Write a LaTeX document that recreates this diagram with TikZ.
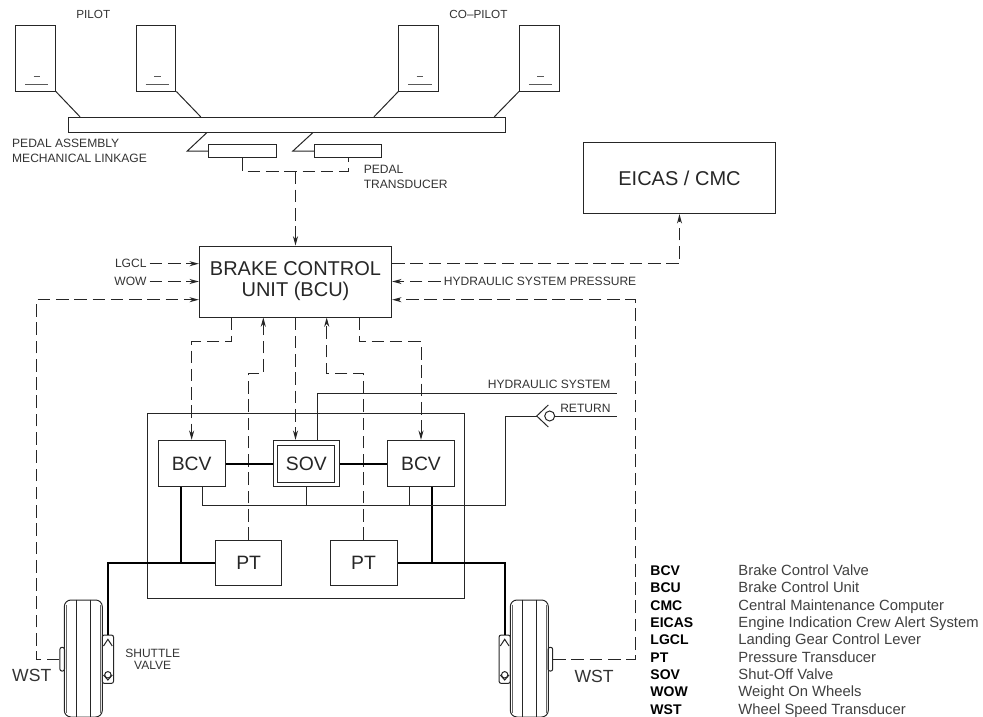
\documentclass[tikz,border=0pt]{standalone}
\usepackage{fontspec}
\setmainfont{Liberation Sans}
\usetikzlibrary{arrows.meta,positioning,calc}

\begin{document}
\begin{tikzpicture}[x=0.75pt, y=-0.75pt, >={Stealth[length=7pt,width=3.8pt]}, line width=0.75pt, black!85]
\tikzstyle{size}=[minimum width=#1*0.75pt]
\tikzstyle{high}=[minimum height=#1*0.75pt]
\tikzstyle{box}=[draw, rectangle, inner sep=0pt, text=black!85, font=\fontsize{14.5}{18}\selectfont]
\tikzstyle{lbl}=[inner sep=2pt, text=black!80, font=\fontsize{9.05}{11.25}\selectfont]
\tikzstyle{sig}=[dash pattern=on 9.5pt off 4.2pt]
\tikzstyle{hyd}=[line width=1.5pt, black]
\useasboundingbox (0,0) rectangle (983,717);

\node[box, size=437.4, high=15]   (bar)   at (287,124.8)     {};
\foreach \n/\x/\fx/\corner in {A/35.5/80/south east, B/156/200.7/south east, C/418.7/374/south west, D/539.3/494.3/south west}{
  \node[box, size=39.8, high=65.7] (pedal\n) at (\x,58.2) {};
  \draw (pedal\n.\corner) -- (\fx,0 |- bar.north);
  \draw[black!65] ($(pedal\n.south)+(-2,-14.7)$) -- ($(pedal\n.south)+(4.5,-14.7)$);
  \draw[black!65] ($(pedal\n.south)+(-10.5,-6.7)$) -- ($(pedal\n.south)+(12.8,-6.7)$);
}
\node[lbl, font=\fontsize{8.8}{11}\selectfont] (pilot)   at (93.3,14.3)  {PILOT};
\node[lbl, font=\fontsize{8.8}{11}\selectfont] (copilot) at (478.5,14.3) {CO–PILOT};
\node[lbl, anchor=west, align=left] (linkage) at (9,150.8)    {PEDAL ASSEMBLY\\MECHANICAL LINKAGE};
\node[lbl, anchor=west, align=left] (pedtxt)  at (360.6,176.5) {PEDAL\\TRANSDUCER};

\node[box, size=68, high=13.7]    (tdA)   at (242.3,151.1)   {};
\node[box, size=67.4, high=13.7]  (tdB)   at (348,151.1)     {};
\coordinate (tdJoin) at (295.5,171.3);
\draw (206.7,0 |- bar.south) -- ($(tdA.west)+(-20.6,0)$) -- (tdA.west);
\draw (312.7,0 |- bar.south) -- ($(tdB.west)+(-21,0)$) -- (tdB.west);

\node[box, size=192.4, high=71, align=center, font=\fontsize{15}{15.75}\selectfont] (bcu) at (295.5,281.5) {BRAKE CONTROL\\UNIT (BCU)};
\node[box, size=192.4, high=71, font=\fontsize{15}{18}\selectfont] (eicas) at (679.5,178.2) {EICAS / CMC};
\node[lbl, anchor=east] (lgcl) at (149.7,263.7) {LGCL};
\node[lbl, anchor=east] (wow)  at (149.7,281.5) {WOW};
\node[lbl, anchor=west] (hsp)  at (440.7,281.5) {HYDRAULIC SYSTEM PRESSURE};

\node[box, size=316.6, high=185]  (frame) at (306,505.8)     {};
\node[box, size=67.3, high=46.4]  (bcvA)  at (191.65,463.5)  {BCV};
\node[box, size=66, high=46.4]    (sov)   at (306.3,463.5)   {};
\node[box, size=57.3, high=37]    (sovIn) at (306.3,463.8)   {SOV};
\node[box, size=66.6, high=46.4]  (bcvB)  at (421,463.5)     {BCV};
\node[box, size=66, high=45]      (ptA)   at (248.7,562.8)   {PT};
\node[box, size=67, high=45]      (ptB)   at (363.5,562.8)   {PT};

\foreach \n/\cx/\s in {L/83.3/1, R/529.3/-1}{
  \node[draw, rectangle, rounded corners=5pt, size=38, high=117, inner sep=0pt] (wheel\n) at (\cx,658.5) {};
  \node[draw, rectangle, rounded corners=1.5pt, size=4.6, high=23.7, inner sep=0pt] (hub\n) at ({\cx-\s*21.1},659.2) {};
  \node[draw, rectangle, rounded corners=1.5pt, size=11.2, high=48.3, inner sep=0pt] (shuttle\n) at ({\cx+\s*24.6},659.2) {};
  \foreach \gx in {-6.4,7.4}
    \draw ($(wheel\n.north)+(\gx,0)$) -- ($(wheel\n.south)+(\gx,0)$);
  \foreach \gx in {-17.2,17.2}
    \draw[black!60] ($(wheel\n.north)+(\gx,5)$) -- ($(wheel\n.south)+(\gx,-5)$);
  \draw ($(shuttle\n.center)+(-4.4,-13.2)$) -- ($(shuttle\n.center)+(0,-19.9)$) -- ($(shuttle\n.center)+(4.4,-13.2)$);
  \draw ($(shuttle\n.center)+(-4.4,15.8)$) -- ($(shuttle\n.center)+(0,20.8)$) -- ($(shuttle\n.center)+(4.4,15.8)$);
  \draw ($(shuttle\n.center)+(0,15.6)$) circle[radius=2.4pt];
}
\node[lbl, font=\fontsize{9}{9}\selectfont, align=center] (shuttxt) at (152.7,659.7) {SHUTTLE\\VALVE};
\node[lbl, anchor=west, font=\fontsize{13.2}{16}\selectfont] (wstL) at (9,675.7)     {WST};
\node[lbl, anchor=west, font=\fontsize{13.2}{16}\selectfont] (wstR) at (571.4,676.7) {WST};

\draw[sig] (tdA.south) |- (tdJoin) -| (tdB.south);
\draw[sig,->] (tdJoin) -- (bcu.north);
\draw[sig,->] (lgcl.east) -- (lgcl.east -| bcu.west);
\draw[sig,->] (wow.east) -- (bcu.west);
\draw[sig,->] (hsp.west) -- (bcu.east);
\draw[sig,->] ($(bcu.east)+(0,-17.8)$) -| (eicas.south);

\draw[sig,->] ($(bcu.south)+(-63.8,0)$) -- ++(0,24.3) -| (bcvA.north);
\draw[sig,->] (bcu.south) -- (bcu.south |- sov.north);
\draw[sig,->] ($(bcu.south)+(63.8,0)$) -- ++(0,24.3) -| (bcvB.north);
\coordinate (jogA) at (263.3,373.3);
\coordinate (jogB) at (326.7,373.3);
\draw[sig,->] (ptA.north) |- (jogA) -- (jogA |- bcu.south);
\draw[sig,->] (ptB.north) |- (jogB) -- (jogB |- bcu.south);
\coordinate (backL) at (36.5,299.7);
\coordinate (backR) at (635,299.7);
\draw[sig,->] (hubL.west) -| (backL) -- (backL -| bcu.west);
\draw[sig,->] (hubR.east) -| (backR) -- (backR -| bcu.east);

\path
(sov) edge[hyd] (bcvA)
(sov) edge[hyd] (bcvB);
\draw[hyd] ($(bcvA.south)+(-11,0)$) |- (ptA.west);
\draw[hyd] ($(bcvB.south)+(11.3,0)$) |- (ptB.east);
\draw[hyd] (ptA.west) -| (shuttleL.north);
\draw[hyd] (ptB.east) -| (shuttleR.north);

\coordinate (hydEnd) at (616.7,393.3);
\coordinate (retBus) at (505,505.7);
\coordinate (chkTip) at (536.7,416);
\coordinate (retEnd) at (616.7,416);
\node[draw, circle, minimum size=7.5pt, inner sep=0pt] (chk) at (549.7,416) {};
\draw ($(sov.north)+(11,0)$) |- (hydEnd);
\draw ($(bcvA.south)+(10.6,0)$) |- (retBus) |- (chkTip);
\draw (sov.south) -- (sov.south |- retBus);
\draw ($(bcvB.south)+(-11.3,0)$) -- ($(bcvB.south |- retBus)+(-11.3,0)$);
\draw ($(chkTip)+(11.6,-11)$) -- (chkTip) -- ($(chkTip)+(11.6,11)$);
\draw (chk.east) -- (retEnd);
\node[lbl, anchor=east] (hydtxt) at (613.7,384.3) {HYDRAULIC SYSTEM};
\node[lbl, anchor=east] (rettxt) at (613.7,408)   {RETURN};

\foreach \k/\d [count=\i] in {BCV/Brake Control Valve, BCU/Brake Control Unit, CMC/Central Maintenance Computer, EICAS/Engine Indication Crew Alert System, LGCL/Landing Gear Control Lever, PT/Pressure Transducer, SOV/Shut-Off Valve, WOW/Weight On Wheels, WST/Wheel Speed Transducer}{
  \node[lbl, anchor=base west, font=\fontsize{10.5}{12}\selectfont\bfseries, text=black] (key\i) at (647.3,{558+\i*17.35}) {\k};
  \node[lbl, anchor=base west, font=\fontsize{11.1}{12}\selectfont, text=black!75] (desc\i) at (735.3,{558+\i*17.35}) {\d};
}
\end{tikzpicture}
\end{document}
